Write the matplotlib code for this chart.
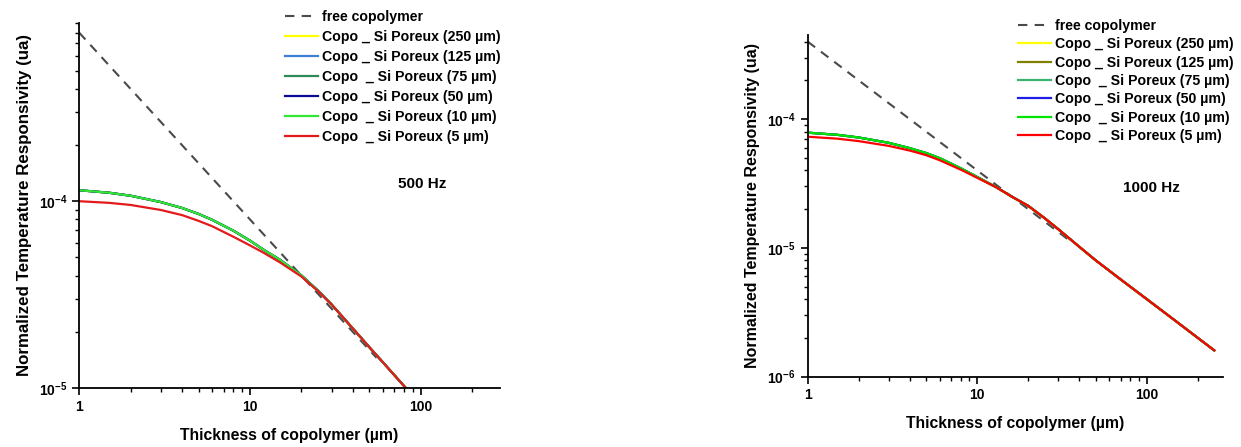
import matplotlib
matplotlib.use("Agg")
import matplotlib.pyplot as plt
import matplotlib.ticker as ticker

plt.rcParams['font.family'] = ['Liberation Sans', 'DejaVu Sans']
plt.rcParams['font.weight'] = 'bold'
plt.rcParams['mathtext.fontset'] = 'custom'
plt.rcParams['mathtext.rm'] = 'Liberation Sans:bold'
plt.rcParams['mathtext.it'] = 'Liberation Sans:bold'
plt.rcParams['mathtext.bf'] = 'Liberation Sans:bold'

# ---- 500 Hz panel ----
thick_500 = [1, 1.5, 2, 3, 4, 5, 6, 8, 10, 12, 15, 20, 25, 30, 40, 50, 60, 80, 100]
red_500 = [1.0e-4, 9.8e-5, 9.55e-5, 8.98e-5, 8.43e-5, 7.85e-5, 7.35e-5, 6.45e-5, 5.8e-5,
           5.3e-5, 4.7e-5, 3.95e-5, 3.3e-5, 2.8e-5, 2.08e-5, 1.65e-5, 1.37e-5,
           1.02e-5, 8.1e-6]
green_500 = [1.145e-4, 1.11e-4, 1.07e-4, 9.9e-5, 9.2e-5, 8.55e-5, 7.95e-5, 6.95e-5, 6.15e-5,
             5.5e-5, 4.85e-5, 4.0e-5, 3.32e-5, 2.8e-5, 2.08e-5, 1.65e-5, 1.37e-5,
             1.02e-5, 8.1e-6]
free_x_500 = [1, 55]
free_y_500 = [8e-4, 1.45e-5]

# ---- 1000 Hz panel ----
thick_1000 = [1, 1.5, 2, 3, 4, 5, 6, 8, 10, 13, 16, 20, 25, 30, 40, 50, 70, 100, 150, 200, 250]
red_1000 = [7.3e-5, 7.05e-5, 6.75e-5, 6.2e-5, 5.7e-5, 5.25e-5, 4.8e-5, 4.05e-5, 3.5e-5,
            2.95e-5, 2.5e-5, 2.12e-5, 1.7e-5, 1.4e-5, 1.02e-5, 8.0e-6, 5.7e-6, 4.0e-6,
            2.67e-6, 2.0e-6, 1.6e-6]
green_1000 = [7.85e-5, 7.55e-5, 7.2e-5, 6.55e-5, 5.95e-5, 5.45e-5, 4.98e-5, 4.15e-5, 3.55e-5,
              2.95e-5, 2.5e-5, 2.12e-5, 1.7e-5, 1.4e-5, 1.02e-5, 8.0e-6, 5.7e-6, 4.0e-6,
              2.67e-6, 2.0e-6, 1.6e-6]
free_x_1000 = [1, 36]
free_y_1000 = [4e-4, 1.11e-5]

labels = ['Copo _ Si Poreux (250 µm)', 'Copo _ Si Poreux (125 µm)', 'Copo  _ Si Poreux (75 µm)',
          'Copo _ Si Poreux (50 µm)', 'Copo  _ Si Poreux (10 µm)', 'Copo  _ Si Poreux (5 µm)']
colors_500 = ['#ffff00', '#3d7fd6', '#2e8b57', '#0a0a96', '#33e633', '#e41a1c']
colors_1000 = ['#ffff00', '#808000', '#3cb371', '#1e1ee6', '#00e600', '#ff0000']

fig = plt.figure(figsize=(12.41, 4.47), dpi=100)
ax1 = fig.add_axes([0.0637, 0.132, 0.3392, 0.8166])
ax2 = fig.add_axes([0.6508, 0.1573, 0.3344, 0.7644])


def draw(ax, thick, green, red, fx, fy, colors, xmax, ylim, freq, txt_pos, leg_pos, lspace, ylab_size):
    ax.plot(fx, fy, color='#4a4a4a', lw=1.5, linestyle=(0, (4.5, 3.5)), label='free copolymer')
    # the 250/125/75/50 µm curves lie under the 10 µm curve
    for c, lab in zip(colors[:5], labels[:5]):
        ax.plot(thick, green, color=c, lw=1.6, label=lab)
    ax.plot(thick, red, color=colors[5], lw=1.6, label=labels[5])
    ax.set_xscale('log')
    ax.set_yscale('log')
    ax.set_xlim(1, xmax)
    ax.set_ylim(*ylim)
    ax.spines['top'].set_visible(False)
    ax.spines['right'].set_visible(False)
    ax.spines['left'].set_linewidth(1.3)
    ax.spines['bottom'].set_linewidth(1.3)
    ax.xaxis.set_major_formatter(ticker.FuncFormatter(lambda v, p: f'{v:g}'))
    ax.xaxis.set_minor_formatter(ticker.NullFormatter())
    ax.yaxis.set_minor_formatter(ticker.NullFormatter())
    ax.tick_params(which='major', length=5, width=1.2, labelsize=10)
    ax.tick_params(which='minor', length=3, width=1.0)
    ax.set_xlabel('Thickness of copolymer (µm)', fontsize=11.3, fontweight='bold', labelpad=10)
    ax.set_ylabel('Normalized Temperature Responsivity (ua)', fontsize=ylab_size,
                  fontweight='bold', labelpad=5)
    ax.text(txt_pos[0], txt_pos[1], freq, transform=ax.transAxes, fontsize=11,
            fontweight='bold', ha='center', va='center')
    ax.legend(loc='upper left', bbox_to_anchor=leg_pos, bbox_transform=fig.transFigure,
              frameon=False, fontsize=10.2, handlelength=2.3, handletextpad=0.3,
              labelspacing=lspace, borderpad=0, borderaxespad=0)


draw(ax1, thick_500, green_500, red_500, free_x_500, free_y_500, colors_500, 290,
     (1e-5, 9e-4), '500 Hz', (0.815, 0.559), (0.2297, 0.978), 0.42, 12.2)
draw(ax2, thick_1000, green_1000, red_1000, free_x_1000, free_y_1000, colors_1000, 280,
     (1e-6, 4.5e-4), '1000 Hz', (0.828, 0.551), (0.8205, 0.958), 0.31, 11.5)

fig.savefig('out.png', dpi=100)
